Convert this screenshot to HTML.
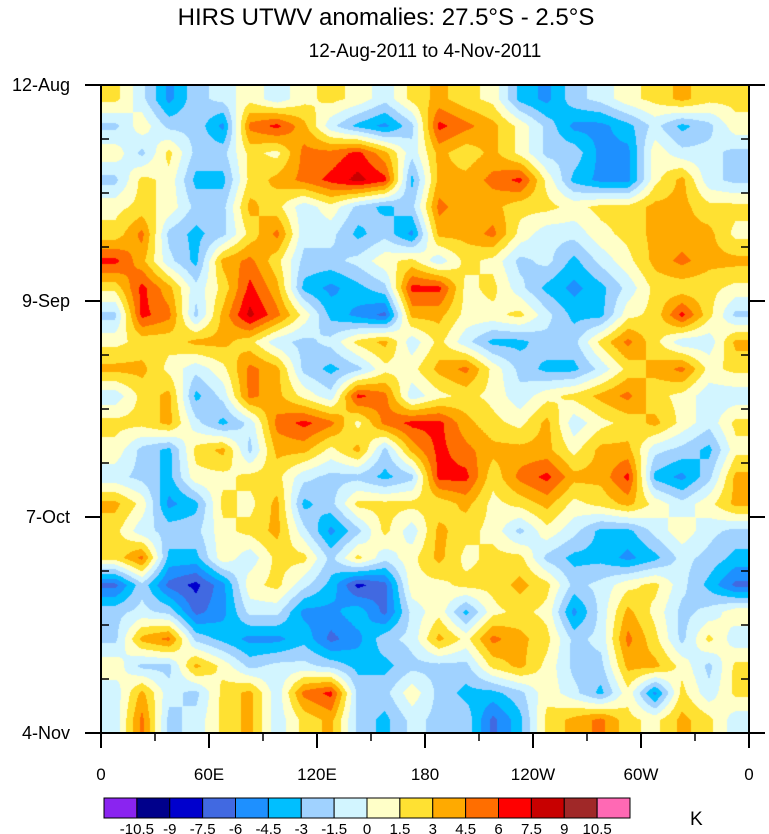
<!DOCTYPE html>
<html><head><meta charset="utf-8"><style>
body{margin:0;background:#fff;width:769px;height:834px;overflow:hidden;font-family:"Liberation Sans",sans-serif}
#map{position:absolute;left:101px;top:85px}
svg{position:absolute;left:0;top:0}
</style></head><body>
<canvas id="map" width="648" height="648"></canvas>
<svg id="ax" width="769" height="834">
<text x="386" y="25" text-anchor="middle" font-size="24">HIRS UTWV anomalies: 27.5°S - 2.5°S</text>
<text x="425" y="57" text-anchor="middle" font-size="19">12-Aug-2011 to 4-Nov-2011</text>
<rect x="101" y="85" width="648" height="648" fill="none" stroke="#000" stroke-width="2"/>
<text x="690" y="825" font-size="19">K</text>
</svg>
<script>
const levels=[-10.5,-9,-7.5,-6,-4.5,-3,-1.5,0,1.5,3,4.5,6,7.5,9,10.5];
const colors=["#8a24f0","#00008b","#0000cd","#4169e1","#1e90ff","#00bfff","#a0d2ff","#d2f5ff","#ffffc8","#ffe132","#ffaa00","#ff6e00","#ff0000","#c80000","#a02828","#ff69b4"];
const xTickLabels=["0","60E","120E","180","120W","60W","0"];
const yTickLabels=["12-Aug","9-Sep","7-Oct","4-Nov"];
const r00=[2,-1,-5,-2,-1,1,-1,1,2,1,-1,2, 3.5,2,1,-3.5,-5,-2,-1,1,2,3.5,2,2];
const r01=[-2,1,-2,-2,-5,5,6.5,3.5,-1,-3.5,-5,-2, 6.5,5,3.5,1,-2,-5,-5,-3.5,-1,-3.5,-2,1];
const r02=[1,-2,2,-2,-2,2,1,5,5,6.5,3.5,-1, 3.5,2,3.5,1,-2,-2,-5,-5,1,-1,-1,-2];
const r03=[-2,2,1,-3.5,-3.5,2,3.5,5,6.5,8,6.5,-3.5, 3.5,3.5,5,6.5,1,-3.5,-5,-5,1,3.5,-1,-2];
const r04=[1,2,1,-2,-2,3.5,2,-1,1,-2,-3.5,-2, 5,3.5,3.5,2,2,1,2,2,3.5,3.5,2,2];
const r05=[2,5,-2,-3.5,-2,2,5,-1,-1,-3.5,-2,-5, 3.5,3.5,5,1,-1,-1,1,2,3.5,3.5,3.5,1];
const r06=[6.5,3.5,-1,-3.5,3.5,5,2,-2,-2,-1,1,2, -1,2,1,-2,-1,-3.5,-1,1,3.5,5,3.5,3.5];
const r07=[2,6.5,3.5,-1,2,6.5,3.5,-3.5,-5,-3.5,-2,6.5, 6.5,1,2,-1,-3.5,-5,-3.5,-1,2,2,2,1];
const r08=[-2,6.5,5,-2,3.5,8,5,1,-3.5,-5,-6.5,3.5, 3.5,1,1,2,-1,-3.5,-3.5,1,2,6.5,2,-2];
const r09=[1,2,2,3.5,3.5,2,-1,-2,-1,2,3.5,-1, 2,-1,-3.5,-3.5,-2,-2,2,5,2,-1,-1,3.5];
const r10=[3.5,3.5,1,-1,1,5,3.5,-2,-3.5,-2,1,1, 3.5,5,1,-2,-3.5,-3.5,-1,2,3.5,5,1,2];
const r11=[-1,2,3.5,-3.5,-1,5,3.5,1,-1,6.5,5,-1, 1,2,1,-1,1,2,3.5,5,2,1,-1,-1];
const r12=[2,2,3.5,-1,-3.5,-1,5,6.5,5,1,5,6.5, 6.5,3.5,2,1,3.5,-1,1,2,3.5,1,-1,2];
const r13=[1,-2,-3.5,2,3.5,-2,3.5,3.5,1,3.5,-2,3.5, 6.5,5,3.5,3.5,3.5,1,3.5,3.5,-1,-2,-3.5,1];
const r14=[-1,-2,-3.5,1,1,2,2,-1,-2,-2,-3.5,-2, 6.5,6.5,2,5,6.5,3.5,3.5,6.5,-3.5,-5,-2,3.5];
const r15=[3.5,1,-5,-3.5,2,1,3.5,-3.5,-2,2,2,2, 2,3.5,1,2,3.5,1,2,3.5,1,-1,1,3.5];
const r16=[2,-1,-2,-2,1,2,3.5,-1,-5,-2,2,-1, 3.5,2,1,-2,1,-1,-3.5,-3.5,-1,1,-1,-2];
const r17=[2,5,-3.5,-3.5,1,-1,2,2,-2,2,-1,1, 3.5,1,2,2,-2,-3.5,-3.5,-5,-3.5,-1,-2,-3.5];
const r18=[-6.5,-2,-6.5,-8,-5,1,2,-1,-3.5,-8,-6.5,1, 1,2,2,3.5,2,-2,-1,1,2,-1,-3.5,-6.5];
const r19=[-2,-1,-2,-6.5,-5,-1,-1,-5,-5,-3.5,-6.5,-1, 1,-3.5,1,2,1,-5,-1,3.5,1,-2,-1,1];
const r20=[-2,3.5,5,-2,-3.5,-5,-5,-3.5,-6.5,-5,-2,-1, 3.5,1,5,3.5,2,-2,-1,5,2,-2,2,-1];
const r21=[1,-2,-2,3.5,1,-2,-1,-1,-2,-3.5,-3.5,-2, -2,-2,2,3.5,1,-2,-2,3.5,3.5,1,-2,2];
const r22=[-1,3.5,-1,-2,2,3.5,-1,5,6.5,-2,-2,1, -2,-3.5,-3.5,-2,1,-1,-3.5,1,-5,2,-1,2];
const r23=[-1,5,-2,-1,2,3.5,-1,2,3.5,-2,-3.5,-1, -2,-2,-6.5,-3.5,2,3.5,5,2,1,3.5,2,-1];
const grid=[r00,r01,r02,r03,r04,r05,r06,r07,r08,r09,r10,r11,r12,r13,r14,r15,r16,r17,r18,r19,r20,r21,r22,r23];

const PX=101,PY=85,PW=648,PH=648;
const nR=grid.length,nC=grid[0].length;
function hex(h){return [parseInt(h.substr(1,2),16),parseInt(h.substr(3,2),16),parseInt(h.substr(5,2),16)];}
const rgb=colors.map(hex);
function cls(v){let i=0;while(i<levels.length&&v>=levels[i])i++;return i;}
const cv=document.getElementById('map'),ctx=cv.getContext('2d');
const img=ctx.createImageData(PW,PH);
for(let y=0;y<PH;y++){
  let fr=y/(PH/nR)-0.5;fr=Math.max(0,Math.min(nR-1.0001,fr));
  const r0=Math.floor(fr),ty=fr-r0,r1=Math.min(nR-1,r0+1);
  for(let x=0;x<PW;x++){
    let fc=x/(PW/nC)-0.5;fc=Math.max(0,Math.min(nC-1.0001,fc));
    const c0=Math.floor(fc),tx=fc-c0,c1=Math.min(nC-1,c0+1);
    const v=(grid[r0][c0]*(1-tx)+grid[r0][c1]*tx)*(1-ty)+(grid[r1][c0]*(1-tx)+grid[r1][c1]*tx)*ty;
    const col=rgb[cls(v)],k=(y*PW+x)*4;
    img.data[k]=col[0];img.data[k+1]=col[1];img.data[k+2]=col[2];img.data[k+3]=255;
  }
}
ctx.putImageData(img,0,0);

const svg=document.getElementById('ax'),NS='http://www.w3.org/2000/svg';
function el(t,a){const e=document.createElementNS(NS,t);for(const k in a)e.setAttribute(k,a[k]);svg.appendChild(e);return e;}
const xPos=i=>PX+i*PW/(xTickLabels.length-1);
const yPos=i=>PY+i*PH/(yTickLabels.length-1);
for(let i=0;i<xTickLabels.length;i++){
  const x=xPos(i);
  const t=el('line',{x1:x,x2:x,y1:PY+PH,y2:PY+PH+15,stroke:'#000','stroke-width':2});
  
  
  const tx=el('text',{x:x,y:780,'text-anchor':'middle','font-size':17});
  tx.textContent=xTickLabels[i];
  
  
  if(i<xTickLabels.length-1){
    const xm=x+PW/(xTickLabels.length-1)/2;
    const m=el('line',{x1:xm,x2:xm,y1:PY+PH,y2:PY+PH+8,stroke:'#000','stroke-width':1.5});
    
    
  }
}
const weeks=12;
for(let w=0;w<=weeks;w++){
  const y=PY+w*PH/weeks;
  const major=(w%4===0);
  const l=el('line',{x1:major?PX-16:PX,x2:major?PX:PX+8,y1:y,y2:y,stroke:'#000','stroke-width':major?2:1.5});
  
  
  const r=el('line',{x1:major?PX+PW:PX+PW-8,x2:major?PX+PW+16:PX+PW,y1:y,y2:y,stroke:'#000','stroke-width':major?2:1.5});
  
  
}
for(let i=0;i<yTickLabels.length;i++){
  const t=el('text',{x:70,y:yPos(i)+6,'text-anchor':'end','font-size':18});
  t.textContent=yTickLabels[i];
  
  
}
const cbX=104,cbY=798,cbW=526,cbH=20,bw=cbW/colors.length;
for(let i=0;i<colors.length;i++){
  const b=el('rect',{x:cbX+i*bw,y:cbY,width:bw,height:cbH,fill:colors[i],stroke:'#000','stroke-width':1});
  
  
}
for(let i=0;i<levels.length;i++){
  const t=el('text',{x:cbX+(i+1)*bw,y:834,'text-anchor':'middle','font-size':15});
  t.textContent=String(levels[i]);
  
  
}
</script>
</body></html>
